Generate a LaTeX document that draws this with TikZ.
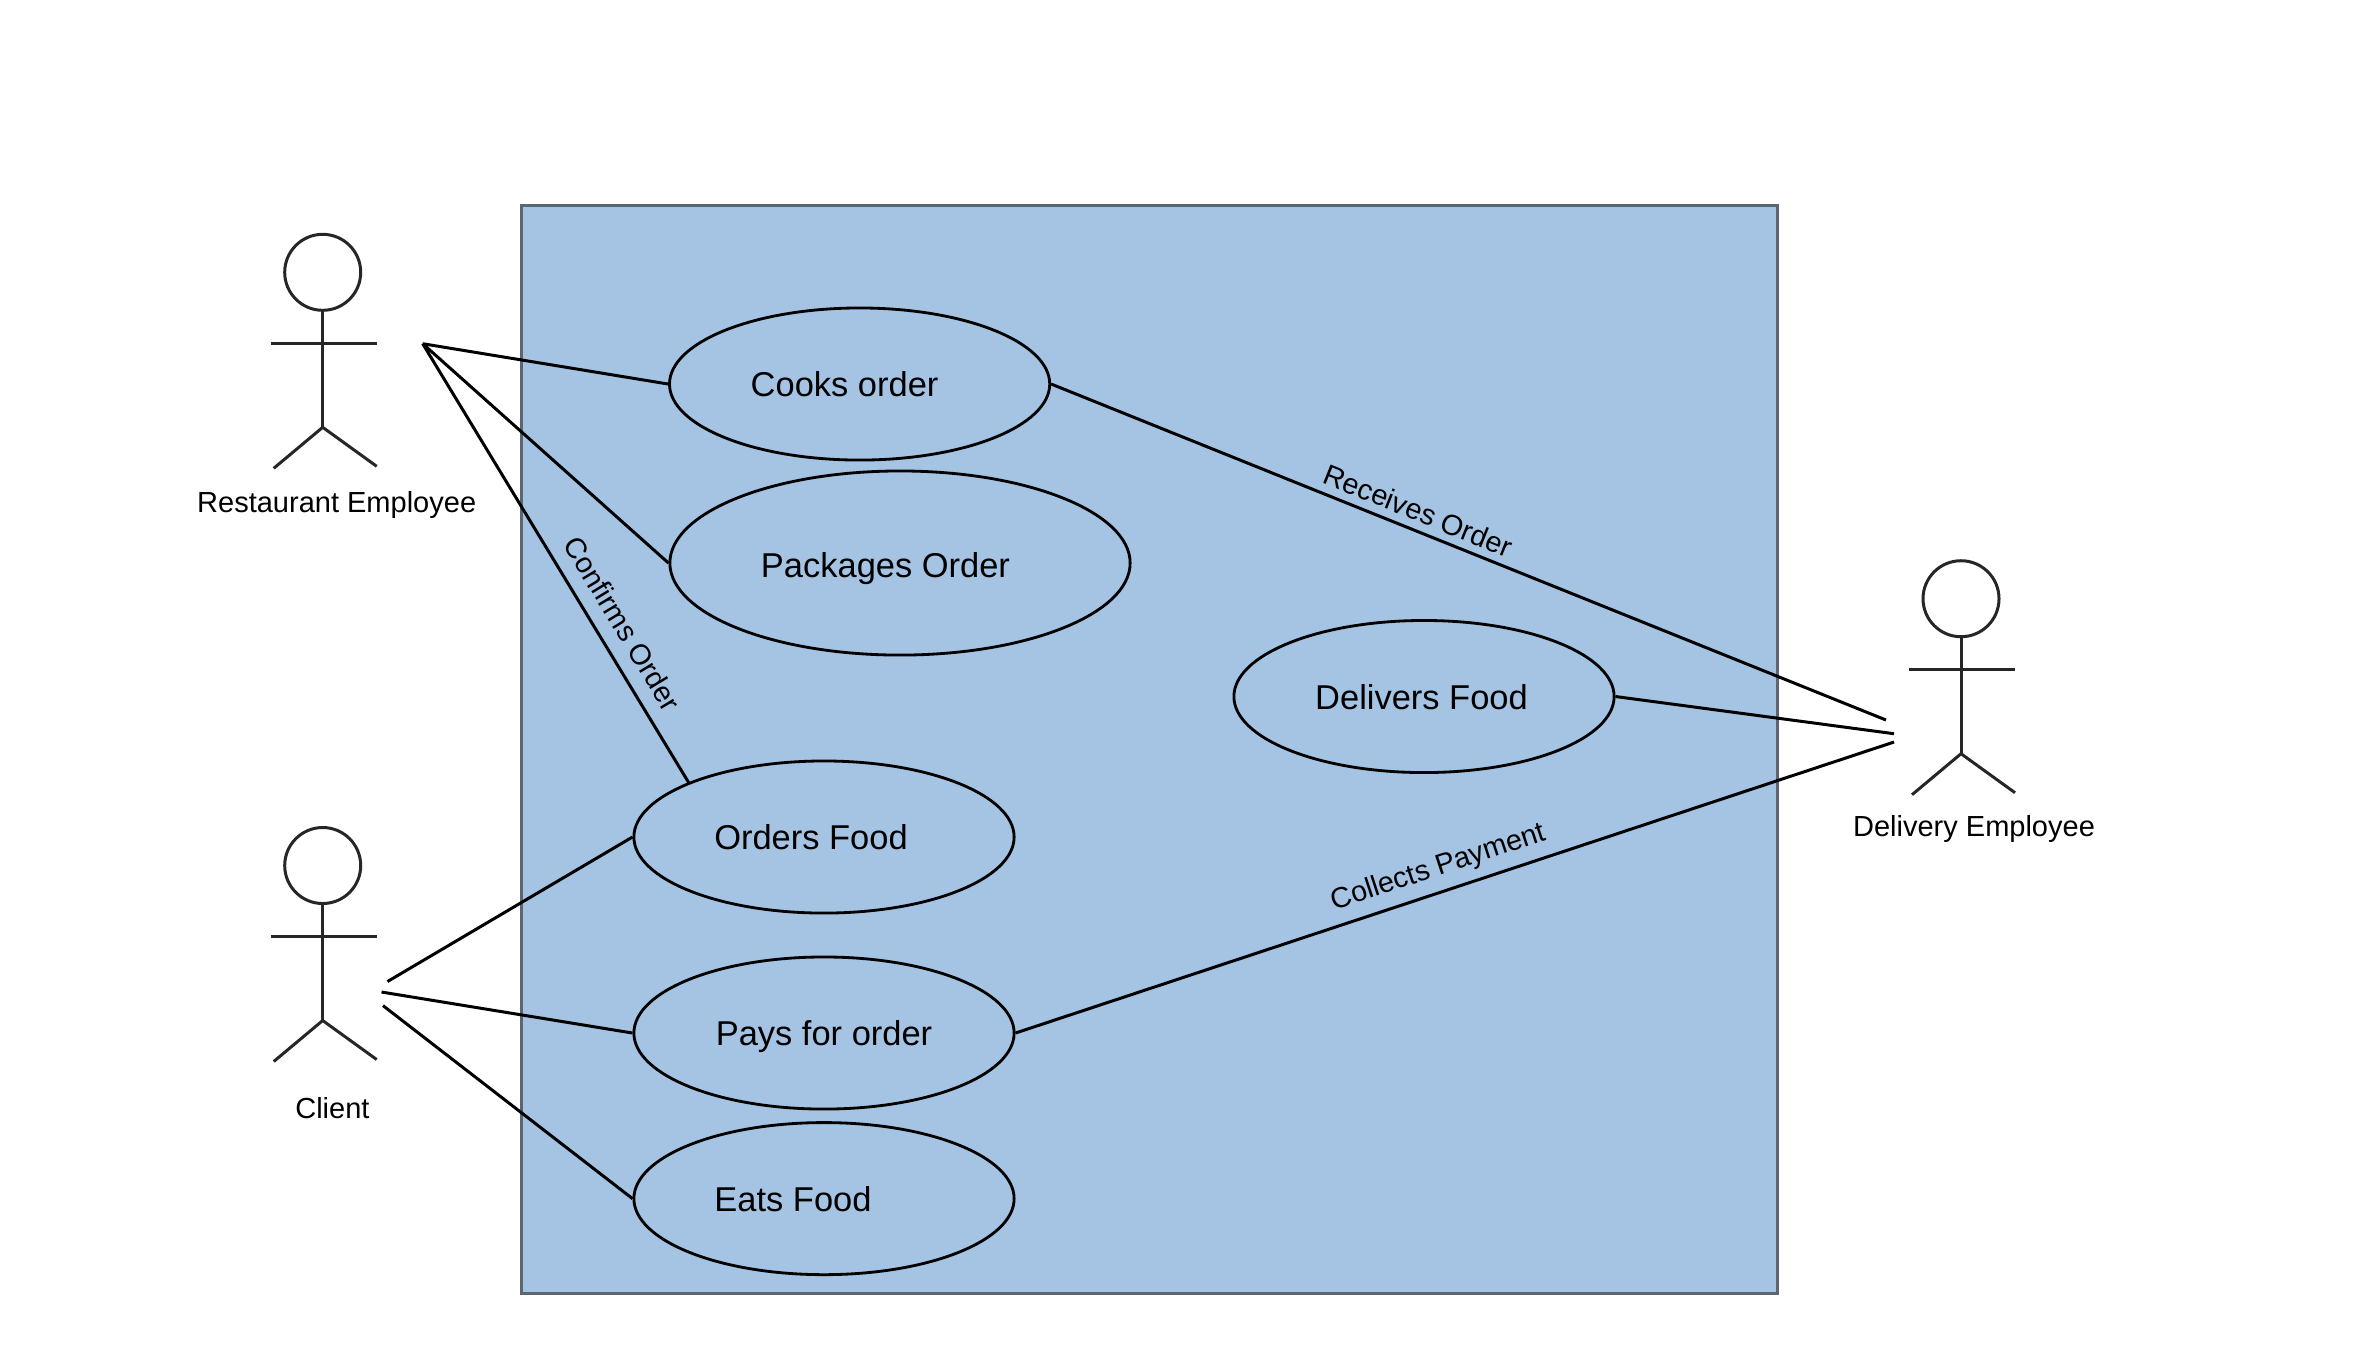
\documentclass[tikz,border=0pt]{standalone}
\usepackage{fontspec}
\setmainfont{Liberation Sans}
\usetikzlibrary{shapes.geometric}

\definecolor{boxblue}{HTML}{A5C3E3}
\definecolor{boxline}{HTML}{5B6670}

\tikzset{
	usecase/.style={draw=black,line width=0.8pt,ellipse,inner sep=0pt,minimum width=3.8cm,minimum height=1.52cm,
		font=\fontsize{9.8}{12}\selectfont,text height=0.29cm,text depth=0.04cm},
	actorname/.style={anchor=base,font=\fontsize{8.25}{10}\selectfont},
	edgename/.style={sloped,font=\fontsize{8.2}{10}\selectfont},
	link/.style={line width=0.85pt},
	stickman/.pic={
		\draw[line width=0.85pt,black!85] (0,0) circle (38);
		\draw[line width=0.85pt,black!85] (0,38)--(0,155);
		\draw[line width=0.85pt,black!85] (-52,71)--(54,71);
		\draw[line width=0.85pt,black!85] (-49,196)--(0,155)--(54,194);
	}
}

\begin{document}
\begin{tikzpicture}[x=0.01cm,y=-0.01cm]
	
	\useasboundingbox (0,0) rectangle (2364,1356);
	
	\draw[fill=boxblue,draw=boxline,line width=0.85pt] (521.7,205) rectangle (1777.6,1293.6);
	
	\pic at (322.7,272.3) {stickman};
	\pic at (322.7,865.5) {stickman};
	\pic at (1961,598.7) {stickman};
	
	\node[actorname] (restaurant) at (336.7,512.7) {Restaurant Employee};
	\node[actorname] (client) at (332.4,1118) {Client};
	\node[actorname] (delivery) at (1974,836.7) {Delivery Employee};
	
	\node[usecase] (cooks) at (859.6,384) {Cooks order\kern0.3cm};
	\node[usecase,minimum width=4.6cm,minimum height=1.84cm,text height=0.31cm,text depth=0.02cm] (packages) at (900,563) {Packages Order\kern0.29cm};
	\node[usecase] (delivers) at (1424,696.5) {Delivers Food\kern0.05cm};
	\node[usecase] (orders) at (824,837) {Orders Food\kern0.26cm};
	\node[usecase] (pays) at (824,1033) {Pays for order};
	\node[usecase] (eats) at (824,1198.6) {Eats Food\kern0.62cm};
	
	\coordinate (resthub) at (422.7,343.7);
	\coordinate (clienta) at (387.5,981.5);
	\coordinate (clientb) at (381.5,992);
	\coordinate (clientc) at (383,1005.6);
	\coordinate (delia) at (1886,720);
	\coordinate (delib) at (1894,733.7);
	\coordinate (delic) at (1894,742);
	
	\draw[link] (resthub)--(cooks.west);
	\draw[link] (resthub)--(packages.west);
	\draw[link] (resthub)--(orders.158) node[edgename,above=0.6pt,pos=0.669] (confirms) {Confirms Order};
	
	\draw[link] (clienta)--(orders.west);
	\draw[link] (clientb)--(pays.west);
	\draw[link] (clientc)--(eats.west);
	
	\draw[link] (cooks.east)--(delia) node[edgename,above=-1.2pt,pos=0.431] (receives) {Receives Order};
	\draw[link] (delivers.east)--(delib);
	\draw[link] (pays.east)--(delic) node[edgename,above=-0.85pt,pos=0.49] (collects) {Collects Payment};
\end{tikzpicture}
\end{document}
